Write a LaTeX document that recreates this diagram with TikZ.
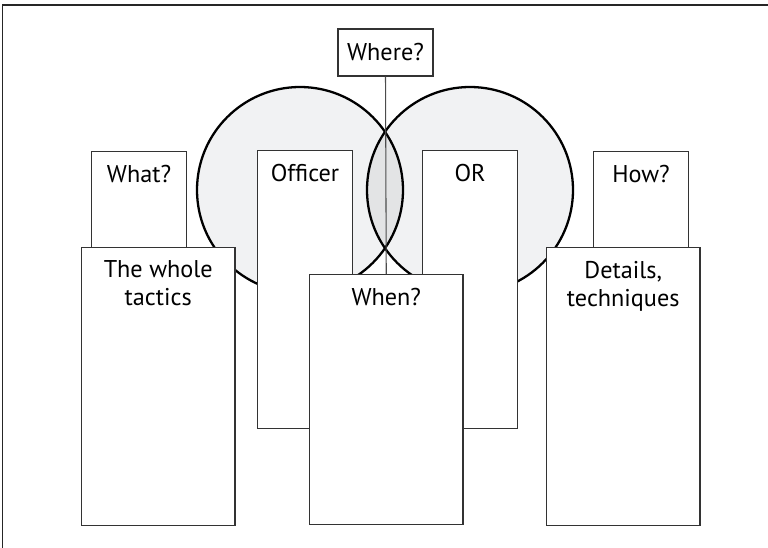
\documentclass[tikz,border=0pt]{standalone}
\usepackage{fontspec}
\newfontfamily\tagfont{PT Sans}
\definecolor{vennfill}{HTML}{F1F2F3}
\definecolor{lensfill}{HTML}{E3E4E5}
\begin{document}
\begin{tikzpicture}[x=0.02cm, y=-0.02cm,
        tab/.style={draw=black!80, line width=0.6pt, fill=white, anchor=north west, inner sep=0pt},
        tag/.style={anchor=north, inner sep=0pt, align=center, font={\tagfont\fontsize{13.8}{16}\selectfont}},
        ring/.style={draw=black, line width=1.3pt}]
        \useasboundingbox (0,0) rectangle (768,548);
        \draw[black!85, line width=0.8pt] (2.7,560) -- (2.7,5) -- (780,5);

        % the two circles and their overlap
        \fill[vennfill] (300,190) circle (103);
        \fill[vennfill] (470,190) circle (103);
        \begin{scope}
            \clip (300,190) circle (103);
            \fill[lensfill] (470,190) circle (103);
        \end{scope}
        \draw[ring] (300,190) circle (103);
        \draw[ring] (470,190) circle (103);

        \node[tab, minimum width=1.9cm, minimum height=0.94cm, anchor=center, font={\tagfont\fontsize{13.8}{16}\selectfont}] (where) at (385.5,52.5) {Where?};

        \node[tab, minimum width=1.9cm, minimum height=5.56cm] (officer) at (257,150) {};
        \node[tab, minimum width=1.9cm, minimum height=5.56cm] (or) at (422,150) {};
        \node[tab, minimum width=1.9cm, minimum height=1.94cm] (what) at (91,151) {};
        \node[tab, minimum width=1.9cm, minimum height=1.94cm] (how) at (593,151) {};
        \node[tab, minimum width=3.07cm, minimum height=5.56cm] (whole) at (81,247) {};
        \node[tab, minimum width=3.07cm, minimum height=5.56cm] (details) at (546,247) {};
        \node[tab, minimum width=3.07cm, minimum height=5.0cm] (when) at (309,274) {};

        \draw[black!70, line width=0.6pt] (where.south) -- (when.north);

        \node[tag] (officerT) at ([yshift=-0.27cm]officer.north) {Officer};
        \node[tag] (orT) at ([yshift=-0.27cm]or.north) {OR};
        \node[tag] (whatT) at ([yshift=-0.27cm]what.north) {What?};
        \node[tag] (howT) at ([yshift=-0.27cm]how.north) {How?};
        \node[tag] (wholeT) at ([yshift=-0.27cm]whole.north) {The whole\\tactics};
        \node[tag] (detailsT) at ([yshift=-0.27cm]details.north) {Details,\\techniques};
        \node[tag] (whenT) at ([yshift=-0.27cm]when.north) {When?};
    \end{tikzpicture}
\end{document}
